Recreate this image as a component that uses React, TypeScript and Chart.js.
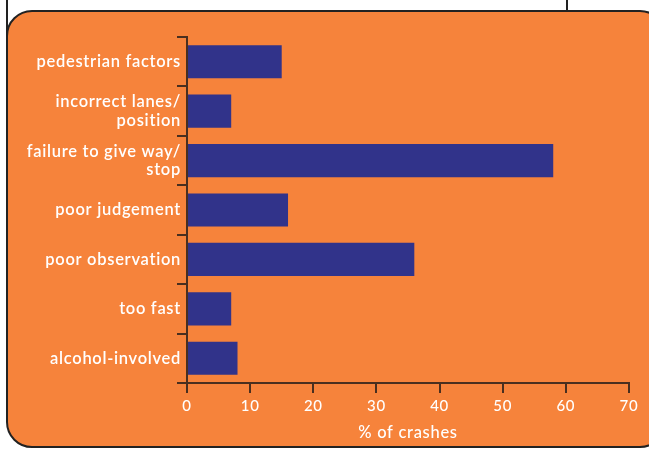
import React, { useEffect, useRef } from 'react';
import Chart from 'chart.js/auto';

const categories: (string | string[])[] = [
  'pedestrian factors',
  ['incorrect lanes/', 'position'],
  ['failure to give way/', 'stop'],
  'poor judgement',
  'poor observation',
  'too fast',
  'alcohol-involved',
];
const crashShare = [15, 7, 58, 16, 36, 7, 8];
const xTicks = [0, 10, 20, 30, 40, 50, 60, 70];

const ORANGE = '#f6833b';
const NAVY = '#31338a';
const LINE = '#4a2f1f';
const FONT = 'Lato, sans-serif';

// the print font is loosely spaced; canvas letterSpacing gets close
const spacingPlugin = {
  id: 'letterSpacing',
  beforeLayout: (chart: any) => { chart.ctx.letterSpacing = '0.7px'; },
  beforeDraw: (chart: any) => { chart.ctx.letterSpacing = '0.7px'; },
};

const App: React.FC = () => {
  const canvasRef = useRef<HTMLCanvasElement | null>(null);

  useEffect(() => {
    if (!canvasRef.current) return;
    const chart = new Chart(canvasRef.current, {
      type: 'bar',
      data: {
        labels: categories,
        datasets: [
          {
            data: crashShare,
            backgroundColor: NAVY,
            borderWidth: 0,
            categoryPercentage: 1,
            barPercentage: 0.67,
          },
        ],
      },
      plugins: [spacingPlugin],
      options: {
        indexAxis: 'y',
        animation: false,
        responsive: false,
        maintainAspectRatio: false,
        layout: { padding: { top: 37, right: 20, bottom: 0, left: 0 } },
        plugins: { legend: { display: false }, tooltip: { enabled: false } },
        scales: {
          y: {
            afterFit: (s: any) => { s.width = 187; },
            grid: { drawOnChartArea: false, color: LINE, lineWidth: 2, tickLength: 10, offset: true },
            border: { color: LINE, width: 2 },
            ticks: { color: '#ffffff', padding: -4, font: { family: FONT, size: 16.5, weight: 600, lineHeight: 1.1 } },
          },
          x: {
            min: 0,
            max: 70,
            afterFit: (s: any) => { s.height = 66; },
            afterBuildTicks: (s: any) => { s.ticks = xTicks.map(v => ({ value: v })); },
            grid: { drawOnChartArea: false, color: LINE, lineWidth: 2, tickLength: 10 },
            border: { color: LINE, width: 2 },
            ticks: { color: '#ffffff', padding: 4, font: { family: FONT, size: 15, weight: 500 } },
            title: {
              display: true,
              text: '% of crashes',
              color: '#ffffff',
              padding: { top: 4, bottom: 6 },
              font: { family: FONT, size: 16.5, weight: 500 },
            },
          },
        },
      },
    });
    return () => chart.destroy();
  }, []);

  return (
    <div style={{ position: 'fixed', left: 0, top: 0, width: 649, height: 449, overflow: 'hidden', background: '#ffffff' }}>
      <div style={{ position: 'absolute', left: 6, top: 0, width: 2, height: 60, background: '#222' }} />
      <div style={{ position: 'absolute', left: 566, top: 0, width: 2, height: 14, background: '#222' }} />
      <div
        style={{
          position: 'absolute',
          left: 6,
          top: 10,
          width: 660,
          height: 438,
          boxSizing: 'border-box',
          border: '2px solid #222',
          borderRadius: 26,
          background: ORANGE,
        }}
      />
      <canvas ref={canvasRef} width={649} height={449} style={{ position: 'absolute', left: 0, top: 0 }} />
    </div>
  );
};

export default App;
